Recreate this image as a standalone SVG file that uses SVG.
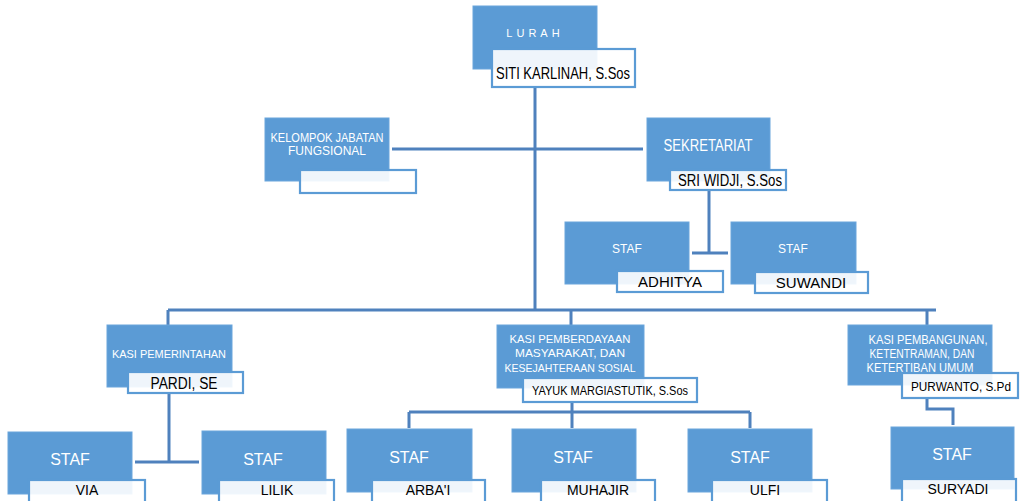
<svg xmlns="http://www.w3.org/2000/svg" width="1021" height="501" viewBox="0 0 1021 501">
<style>
.b{fill:#5b9bd5;stroke:#6aa5dc;stroke-width:1}
.n{fill:#ffffff;fill-opacity:0.9;stroke:#5b9bd5;stroke-width:2.2}
.w{fill:#ffffff;font-family:"Liberation Sans",Arial,sans-serif;text-anchor:middle}
.k{fill:#000000;font-family:"Liberation Sans",Arial,sans-serif;text-anchor:middle}
.c{fill:none;stroke:#4f81bd;stroke-width:3}
</style>
<rect width="1021" height="501" fill="#ffffff"/>
<g id="connectors">
<path class="c" d="M535 87V310M168 310H936M168 310V327M571 310V325M927 310V325"/>
<path class="c" d="M392 149H643"/>
<path class="c" d="M709 190V253M692 253H728"/>
<path class="c" d="M169 393V462M135 462H199"/>
<path class="c" d="M572 402V412M409 412H750M409 412V428M572 412V428M750 412V428"/>
<path class="c" d="M927 398V409H953V425"/>
</g>
<g id="lurah">
<rect class="b" x="473" y="6" width="124" height="63"/>
<text class="w" x="535" y="37" font-size="11" letter-spacing="4">LURAH</text>
<rect class="n" x="492" y="49" width="143" height="38"/>
<text class="k" x="563" y="79" font-size="17" textLength="134" lengthAdjust="spacingAndGlyphs">SITI KARLINAH, S.Sos</text>
</g>
<g id="kelompok">
<rect class="b" x="265" y="118" width="124" height="63"/>
<text class="w" x="327" y="142" font-size="12" textLength="113" lengthAdjust="spacingAndGlyphs">KELOMPOK JABATAN</text>
<text class="w" x="327" y="155" font-size="12">FUNGSIONAL</text>
<rect class="n" x="300" y="170" width="116" height="23"/>
</g>
<g id="sekretariat">
<rect class="b" x="647" y="118" width="123" height="63"/>
<text class="w" x="708" y="151" font-size="16" textLength="89" lengthAdjust="spacingAndGlyphs">SEKRETARIAT</text>
<rect class="n" x="670" y="170" width="116" height="20"/>
<text class="k" x="730" y="186" font-size="16" textLength="104" lengthAdjust="spacingAndGlyphs">SRI WIDJI, S.Sos</text>
</g>
<g id="staf-adhitya">
<rect class="b" x="565" y="222" width="124" height="62"/>
<text class="w" x="627" y="253" font-size="12">STAF</text>
<rect class="n" x="617" y="271" width="106" height="21"/>
<text class="k" x="670" y="287" font-size="15">ADHITYA</text>
</g>
<g id="staf-suwandi">
<rect class="b" x="731" y="222" width="125" height="62"/>
<text class="w" x="793" y="253" font-size="12">STAF</text>
<rect class="n" x="755" y="272" width="113" height="21"/>
<text class="k" x="811" y="288" font-size="15">SUWANDI</text>
</g>
<g id="kasi-pemerintahan">
<rect class="b" x="107" y="325" width="125" height="62"/>
<text class="w" x="169" y="358" font-size="11" textLength="114" lengthAdjust="spacingAndGlyphs">KASI PEMERINTAHAN</text>
<rect class="n" x="128" y="372" width="115" height="21"/>
<text class="k" x="184" y="389" font-size="16" textLength="67" lengthAdjust="spacingAndGlyphs">PARDI, SE</text>
</g>
<g id="kasi-pemberdayaan">
<rect class="b" x="497" y="325" width="147" height="63"/>
<text class="w" x="570" y="343" font-size="11.5" textLength="121" lengthAdjust="spacingAndGlyphs">KASI PEMBERDAYAAN</text>
<text class="w" x="570" y="357" font-size="11.5" textLength="110" lengthAdjust="spacingAndGlyphs">MASYARAKAT,  DAN</text>
<text class="w" x="570" y="372" font-size="11.5" textLength="131" lengthAdjust="spacingAndGlyphs">KESEJAHTERAAN SOSIAL</text>
<rect class="n" x="523" y="378" width="174" height="24"/>
<text class="k" x="610" y="395" font-size="13" textLength="156" lengthAdjust="spacingAndGlyphs">YAYUK MARGIASTUTIK, S.Sos</text>
</g>
<g id="kasi-pembangunan">
<rect class="b" x="848" y="325" width="144" height="60"/>
<text class="w" x="928" y="344" font-size="12" textLength="119" lengthAdjust="spacingAndGlyphs">KASI PEMBANGUNAN,</text>
<text class="w" x="922" y="358" font-size="12" textLength="105" lengthAdjust="spacingAndGlyphs">KETENTRAMAN, DAN</text>
<text class="w" x="920" y="372" font-size="12" textLength="107" lengthAdjust="spacingAndGlyphs">KETERTIBAN UMUM</text>
<rect class="n" x="902" y="373" width="116" height="25"/>
<text class="k" x="961" y="391" font-size="13" textLength="100" lengthAdjust="spacingAndGlyphs">PURWANTO, S.Pd</text>
</g>
<g id="staf-via">
<rect class="b" x="8" y="432" width="124" height="62"/>
<text class="w" x="70" y="465" font-size="16">STAF</text>
<rect class="n" x="29" y="480" width="116" height="24"/>
<text class="k" x="87" y="495" font-size="14">VIA</text>
</g>
<g id="staf-lilik">
<rect class="b" x="202" y="431" width="124" height="63"/>
<text class="w" x="263" y="465" font-size="16">STAF</text>
<rect class="n" x="219" y="480" width="115" height="24"/>
<text class="k" x="277" y="495" font-size="14">LILIK</text>
</g>
<g id="staf-arbai">
<rect class="b" x="347" y="429" width="125" height="63"/>
<text class="w" x="409" y="463" font-size="16">STAF</text>
<rect class="n" x="372" y="480" width="113" height="24"/>
<text class="k" x="428" y="495" font-size="14">ARBA'I</text>
</g>
<g id="staf-muhajir">
<rect class="b" x="512" y="429" width="124" height="63"/>
<text class="w" x="573" y="463" font-size="16">STAF</text>
<rect class="n" x="541" y="480" width="114" height="24"/>
<text class="k" x="598" y="495" font-size="14">MUHAJIR</text>
</g>
<g id="staf-ulfi">
<rect class="b" x="688" y="429" width="124" height="63"/>
<text class="w" x="750" y="463" font-size="16">STAF</text>
<rect class="n" x="712" y="480" width="115" height="24"/>
<text class="k" x="765" y="495" font-size="14">ULFI</text>
</g>
<g id="staf-suryadi">
<rect class="b" x="891" y="427" width="123" height="62"/>
<text class="w" x="952" y="460" font-size="16">STAF</text>
<rect class="n" x="902" y="479" width="114" height="25"/>
<text class="k" x="958" y="494" font-size="14">SURYADI</text>
</g>
</svg>
